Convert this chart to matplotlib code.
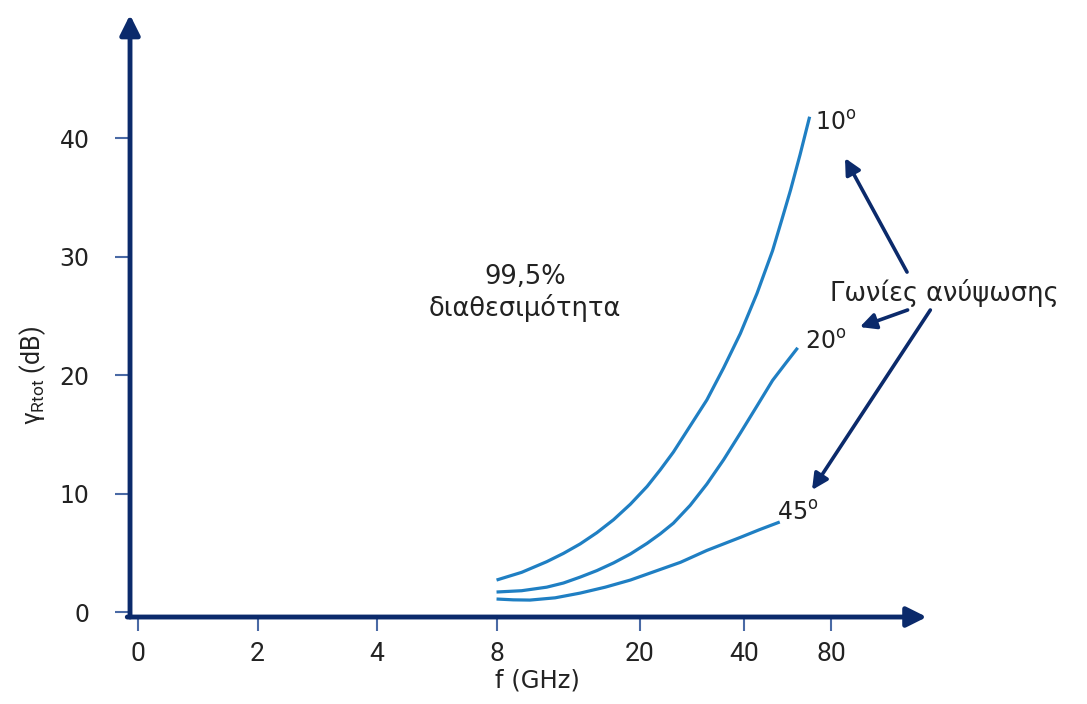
import matplotlib
matplotlib.use("Agg")
import matplotlib.pyplot as plt

# ---- data (x = position on the drawn frequency axis, y = dB) ----
tick_pos = [0, 1, 2, 3, 4.2, 5.07, 5.8]
tick_labels = ["0", "2", "4", "8", "20", "40", "80"]
y_ticks = [0, 10, 20, 30, 40]

x_10 = [3.00, 3.21, 3.42, 3.56, 3.70, 3.84, 3.98, 4.12, 4.26, 4.37, 4.48, 4.62,
        4.76, 4.90, 5.04, 5.18, 5.31, 5.39, 5.46, 5.54, 5.62]
y_10 = [2.7, 3.35, 4.25, 4.95, 5.75, 6.7, 7.8, 9.1, 10.6, 12.0, 13.5, 15.7,
        17.9, 20.6, 23.5, 26.9, 30.5, 33.2, 35.6, 38.6, 41.8]

x_20 = [3.00, 3.21, 3.42, 3.56, 3.70, 3.84, 3.98, 4.12, 4.26, 4.37, 4.48, 4.62,
        4.76, 4.90, 5.04, 5.18, 5.31, 5.42, 5.52]
y_20 = [1.69, 1.80, 2.10, 2.45, 2.95, 3.50, 4.15, 4.90, 5.80, 6.60, 7.50, 9.00,
        10.8, 12.85, 15.1, 17.4, 19.55, 21.0, 22.3]

x_45 = [3.00, 3.14, 3.28, 3.49, 3.70, 3.91, 4.12, 4.33, 4.54, 4.76, 5.04, 5.20, 5.37]
y_45 = [1.10, 1.03, 1.01, 1.2, 1.6, 2.1, 2.7, 3.45, 4.2, 5.2, 6.3, 6.95, 7.6]

curve_labels = ["10$^{\\mathrm{o}}$", "20$^{\\mathrm{o}}$", "45$^{\\mathrm{o}}$"]

navy = "#0b2a6b"
curve_c = "#1f7fc3"
tick_c = "#4a6aa5"
txt_c = "#222222"

plt.rcParams["font.family"] = ["DejaVu Sans"]
plt.rcParams["mathtext.fontset"] = "custom"
plt.rcParams["mathtext.rm"] = "Roboto"
plt.rcParams["mathtext.it"] = "Roboto:italic"

fig = plt.figure(figsize=(10.87, 7.04), dpi=100)
ax = fig.add_axes([0, 0, 1, 1])
ax.set_xlim(-1.155, 7.941)
ax.set_ylim(-7.76, 51.65)
ax.patch.set_alpha(0)

# spines positioned at axis lines (invisible, arrows drawn instead)
ax.spines["left"].set_position(("data", -0.067))
ax.spines["bottom"].set_position(("data", -0.42))
for s in ["left", "bottom", "top", "right"]:
    ax.spines[s].set_color("none")

narrow = ["Roboto", "DejaVu Sans"]
ax.set_xticks(tick_pos)
ax.set_xticklabels(tick_labels, fontsize=19, family=narrow, color=txt_c)
ax.set_yticks(y_ticks)
ax.set_yticklabels([str(v) for v in y_ticks], fontsize=17, color=txt_c)
ax.tick_params(axis="x", direction="out", length=10, width=1.5, color=tick_c, pad=8)
ax.tick_params(axis="y", direction="out", length=11, width=1.5, color=tick_c, pad=18)

# axis lines with arrowheads
ax.annotate("", xy=(-0.067, 50.4), xytext=(-0.067, -0.42),
            arrowprops=dict(arrowstyle="-|>", lw=3.5, color=navy, mutation_scale=30,
                            shrinkA=0, shrinkB=0), annotation_clip=False)
ax.annotate("", xy=(6.6, -0.42), xytext=(-0.09, -0.42),
            arrowprops=dict(arrowstyle="-|>", lw=3.5, color=navy, mutation_scale=30,
                            shrinkA=0, shrinkB=0), annotation_clip=False)

# curves
for xs, ys in [(x_10, y_10), (x_20, y_20), (x_45, y_45)]:
    ax.plot(xs, ys, color=curve_c, lw=2.3, solid_capstyle="butt", solid_joinstyle="round")

# curve labels
lab_kw = dict(fontsize=17, color=txt_c, va="center", ha="left", math_fontfamily="dejavusans")
ax.text(5.665, 41.3, curve_labels[0], **lab_kw)
ax.text(5.58, 22.8, curve_labels[1], **lab_kw)
ax.text(5.35, 8.4, curve_labels[2], **lab_kw)

ax.text(5.79, 26.9, "Γωνίες ανύψωσης", fontsize=18.5, color=txt_c, va="center", ha="left")
ax.text(3.24, 26.9, "99,5%\nδιαθεσιμότητα", fontsize=18.5, color=txt_c, va="center",
        ha="center", linespacing=1.2)

# annotation arrows
arrows = [((6.435, 28.69), (5.916, 38.31)),
          ((6.44, 25.49), (6.04, 24.05)),
          ((6.63, 25.49), (5.64, 10.30))]
for tail, head in arrows:
    ax.annotate("", xy=head, xytext=tail,
                arrowprops=dict(arrowstyle="-|>", lw=2.6, color=navy, mutation_scale=24,
                                shrinkA=0, shrinkB=0))

# axis titles
ax.text(-0.88, 20.0, "γ$_{\\mathrm{Rtot}}$ (dB)", rotation=90, fontsize=18,
        color=txt_c, va="center", ha="center", family=narrow)
ax.text(3.34, -5.8, "f (GHz)", fontsize=17.5, color=txt_c, va="center", ha="center")

fig.savefig("out.png", dpi=100)
